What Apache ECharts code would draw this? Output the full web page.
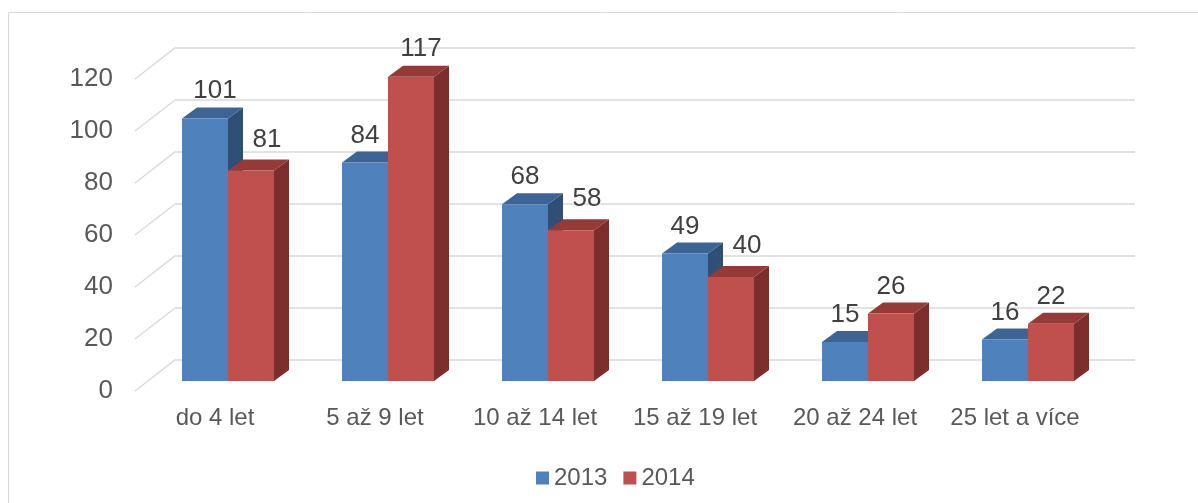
<!DOCTYPE html>
<html>
<head>
<meta charset="utf-8">
<script src="https://cdn.jsdelivr.net/npm/echarts@6/dist/echarts.min.js"></script>
<style>
  html, body { margin: 0; padding: 0; background: #fff; }
  #chart { width: 1198px; height: 503px; }
</style>
</head>
<body>
<div id="chart"></div>
<script>
// data
const categories = ['do 4 let', '5 až 9 let', '10 až 14 let', '15 až 19 let', '20 až 24 let', '25 let a více']
const values2013 = [101, 84, 68, 49, 15, 16]
const values2014 = [81, 117, 58, 40, 26, 22]
const yTicks = [0, 20, 40, 60, 80, 100, 120]

// 3d look (pixels)
const WALL = [40, -31]   // front plane -> back wall
const FRONT = [13, -10]  // front plane -> bar front face
const DEPTH = [15, -11]  // bar depth
const BAR_RATIO = 0.2875

const chart = echarts.init(document.getElementById('chart'))

// label nudge like excel does: move right when the left neighbour is taller
function labelShift(k, i, v) {
  if (k === 0 && values2013[i] > v) return [16, -31]
  if (String(v).length > 2) return [10, -28]
  return [0, -27]
}

function barRenderer(k, colors) {
  return function (params, api) {
    const i = api.value(0)
    const v = api.value(1)
    const base = api.coord([i, 0])
    const top = api.coord([i, v])
    const bw = api.size([1, 0])[0] * BAR_RATIO
    const x0 = base[0] + FRONT[0] + k * bw
    const yb = base[1] + FRONT[1]
    const yt = top[1] + FRONT[1]
    const x1 = x0 + bw
    const shift = labelShift(k, i, v)
    return {
      type: 'group',
      children: [
        {
          type: 'polygon',
          shape: { points: [[x1, yt], [x1 + DEPTH[0], yt + DEPTH[1]], [x1 + DEPTH[0], yb + DEPTH[1]], [x1, yb]] },
          style: { fill: colors.side }
        },
        {
          type: 'polygon',
          shape: { points: [[x0, yt], [x1, yt], [x1 + DEPTH[0], yt + DEPTH[1]], [x0 + DEPTH[0], yt + DEPTH[1]]] },
          style: { fill: colors.top }
        },
        {
          type: 'rect',
          shape: { x: x0, y: yt, width: bw, height: yb - yt },
          style: { fill: colors.front }
        },
        {
          type: 'text',
          x: x0 + bw / 2 + shift[0],
          y: yt + shift[1],
          style: {
            text: String(v),
            fill: '#404040',
            font: '26px "Liberation Sans", Arial, sans-serif',
            align: 'center',
            verticalAlign: 'middle'
          }
        }
      ]
    }
  }
}

const option = {
  animation: false,
  backgroundColor: '#fff',
  textStyle: { fontFamily: '"Liberation Sans", Arial, sans-serif' },
  graphic: [
    {
      type: 'rect',
      shape: { x: 8.5, y: 12.5, width: 1400, height: 700 },
      style: { fill: 'none', stroke: '#d9d9d9', lineWidth: 1 },
      z: -10
    }
  ],
  grid: {
    left: 135,
    top: 79,
    width: 960,
    height: 312
  },
  legend: {
    data: ['2013', '2014'],
    left: 531,
    top: 461,
    icon: 'rect',
    itemWidth: 13,
    itemHeight: 13,
    itemGap: 16,
    textStyle: { fontSize: 24, color: '#595959' }
  },
  xAxis: {
    type: 'category',
    data: categories,
    axisLine: { show: false },
    axisTick: { show: false },
    splitLine: { show: false },
    axisLabel: { margin: 15, fontSize: 24, color: '#595959', interval: 0 }
  },
  yAxis: {
    type: 'value',
    min: 0,
    max: 120,
    interval: 20,
    axisLine: { show: false },
    axisTick: { show: false },
    splitLine: { show: false },
    axisLabel: { margin: 22, fontSize: 26, color: '#595959' }
  },
  series: [
    {
      name: 'grid',
      type: 'custom',
      silent: true,
      data: yTicks.map((t) => [0, t]),
      renderItem: (params, api) => {
        const cs = params.coordSys
        const y = api.coord([0, api.value(1)])[1]
        const bx = cs.x + WALL[0]
        const by = y + WALL[1]
        return {
          type: 'polyline',
          shape: { points: [[cs.x, y], [bx, by], [cs.x + cs.width + WALL[0], by]] },
          style: { stroke: '#d9d9d9', lineWidth: 1.5, fill: 'none' }
        }
      },
      z: 1
    },
    {
      name: '2013',
      type: 'custom',
      itemStyle: { color: '#4f81bd' },
      data: values2013.map((v, i) => [i, v]),
      renderItem: barRenderer(-1, { front: '#4f81bd', top: '#3c6595', side: '#2f4f76' }),
      z: 2
    },
    {
      name: '2014',
      type: 'custom',
      itemStyle: { color: '#c0504d' },
      data: values2014.map((v, i) => [i, v]),
      renderItem: barRenderer(0, { front: '#c0504d', top: '#953a37', side: '#7b2e2c' }),
      z: 3
    }
  ]
}

chart.setOption(option)
</script>
</body>
</html>
